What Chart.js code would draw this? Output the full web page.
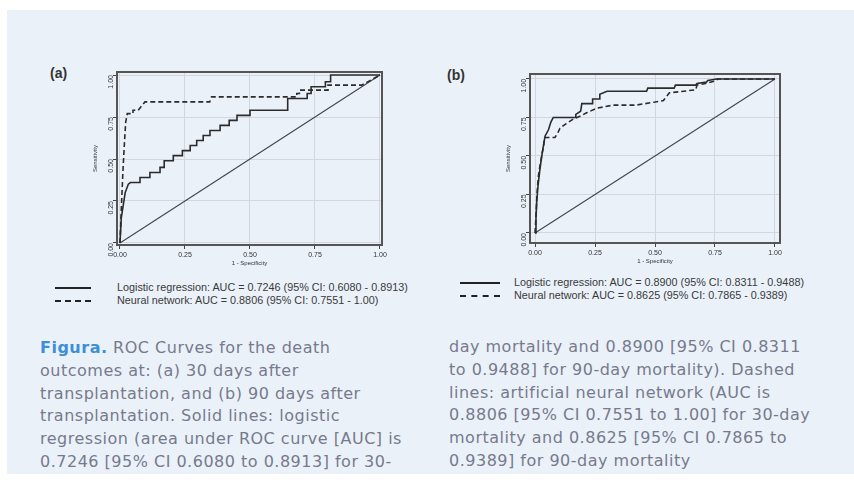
<!DOCTYPE html>
<html>
<head>
<meta charset="utf-8">
<script src="https://cdn.jsdelivr.net/npm/chart.js@4.4.1/dist/chart.umd.min.js"></script>
<style>
  body { margin: 0; background: #fff; width: 854px; height: 494px; position: relative; overflow: hidden; }
  .panel { position: absolute; left: 7px; top: 10px; width: 847px; height: 464px; background: #ebf1f9; }
  .box { position: absolute; }
  .tag { position: absolute; font: bold 14px "Liberation Sans", Arial, sans-serif; color: #333; }
  .leg { position: absolute; font: 10.8px "Liberation Sans", Arial, sans-serif; color: #3a3a3a; white-space: nowrap; line-height: 12.5px; }
  .leg .row { position: relative; height: 12.5px; }
  .leg .smp { position: absolute; left: 0; top: 6px; width: 36px; border-top: 2px solid #222; }
  .leg .smp.dash { border-top-style: dashed; }
  .leg .txt { position: absolute; top: 0; }
  .cap { position: absolute; font: 16px "DejaVu Sans", sans-serif; letter-spacing: 0.5px; color: #777a8c; line-height: 22.8px; white-space: nowrap; }
  .cap b { color: #3d8fd6; font-weight: 600; }
</style>
</head>
<body>
<div class="panel"></div>

<div class="tag" style="left:50px;top:65px">(a)</div>
<div class="tag" style="left:447px;top:67px">(b)</div>

<div class="box" style="left:60px;top:60px;width:330px;height:210px"><canvas id="chartA"></canvas></div>
<div class="box" style="left:470px;top:62px;width:330px;height:210px"><canvas id="chartB"></canvas></div>

<div class="leg" style="left:55px;top:281px">
  <div class="row"><div class="smp"></div><span class="txt" style="left:62px">Logistic regression: AUC = 0.7246 (95% CI: 0.6080 - 0.8913)</span></div>
  <div class="row"><div class="smp dash"></div><span class="txt" style="left:62px">Neural network: AUC = 0.8806 (95% CI: 0.7551 - 1.00)</span></div>
</div>
<div class="leg" style="left:460px;top:276px">
  <div class="row"><div class="smp" style="width:40px"></div><span class="txt" style="left:54px">Logistic regression: AUC = 0.8900 (95% CI: 0.8311 - 0.9488)</span></div>
  <div class="row"><div class="smp dash" style="width:40px"></div><span class="txt" style="left:54px">Neural network: AUC = 0.8625 (95% CI: 0.7865 - 0.9389)</span></div>
</div>

<div class="cap" style="left:40px;top:337px"><b>Figura.</b> ROC Curves for the death<br>outcomes at: (a) 30 days after<br>transplantation, and (b) 90 days after<br>transplantation. Solid lines: logistic<br>regression (area under ROC curve [AUC] is<br>0.7246 [95% CI 0.6080 to 0.8913] for 30-</div>
<div class="cap" style="left:449px;top:336px">day mortality and 0.8900 [95% CI 0.8311<br>to 0.9488] for 90-day mortality). Dashed<br>lines: artificial neural network (AUC is<br>0.8806 [95% CI 0.7551 to 1.00] for 30-day<br>mortality and 0.8625 [95% CI 0.7865 to<br>0.9389] for 90-day mortality</div>

<script>
// Axis ticks
const tickValues = [0, 0.25, 0.5, 0.75, 1]
const tickLabels = ['0.00', '0.25', '0.50', '0.75', '1.00']

// Reference line
const diagX = [0, 1]
const diagY = [0, 1]

// (a) 30 days - logistic regression
const aLogitFpr = [0, 0.005, 0.02, 0.032, 0.04, 0.077, 0.077, 0.115, 0.115, 0.154, 0.154, 0.17, 0.17, 0.205, 0.205, 0.24, 0.24, 0.27, 0.27, 0.295, 0.295, 0.32, 0.32, 0.346, 0.346, 0.385, 0.385, 0.42, 0.42, 0.45, 0.45, 0.5, 0.5, 0.645, 0.645, 0.72, 0.72, 0.735, 0.735, 0.79, 0.79, 0.81, 0.81, 1]
const aLogitTpr = [0, 0.15, 0.3, 0.35, 0.36, 0.36, 0.39, 0.39, 0.42, 0.42, 0.45, 0.45, 0.49, 0.49, 0.52, 0.52, 0.55, 0.55, 0.58, 0.58, 0.61, 0.61, 0.64, 0.64, 0.67, 0.67, 0.7, 0.7, 0.73, 0.73, 0.76, 0.76, 0.79, 0.79, 0.86, 0.86, 0.89, 0.89, 0.93, 0.93, 0.96, 0.96, 1, 1]
// (a) 30 days - neural network
const aNeuralFpr = [0, 0.005, 0.012, 0.018, 0.022, 0.028, 0.05, 0.05, 0.07, 0.08, 0.096, 0.345, 0.352, 0.68, 0.68, 0.69, 0.69, 0.8, 0.8, 0.93, 1]
const aNeuralTpr = [0, 0.2, 0.45, 0.62, 0.72, 0.77, 0.77, 0.79, 0.79, 0.81, 0.84, 0.84, 0.87, 0.87, 0.89, 0.89, 0.91, 0.91, 0.94, 0.94, 1]

// (b) 90 days - logistic regression
const bLogitFpr = [0, 0.004, 0.007, 0.012, 0.02, 0.03, 0.042, 0.056, 0.066, 0.076, 0.17, 0.17, 0.19, 0.195, 0.24, 0.24, 0.27, 0.27, 0.3, 0.465, 0.47, 0.58, 0.585, 0.67, 0.675, 0.715, 0.72, 0.757, 1]
const bLogitTpr = [0, 0.1, 0.2, 0.3, 0.41, 0.52, 0.63, 0.67, 0.72, 0.75, 0.75, 0.77, 0.79, 0.84, 0.84, 0.87, 0.87, 0.9, 0.92, 0.92, 0.94, 0.94, 0.96, 0.96, 0.97, 0.98, 0.99, 1, 1]
// (b) 90 days - neural network
const bNeuralFpr = [0, 0.004, 0.008, 0.014, 0.022, 0.03, 0.035, 0.04, 0.083, 0.095, 0.104, 0.13, 0.16, 0.19, 0.215, 0.257, 0.326, 0.42, 0.5, 0.535, 0.56, 0.62, 0.67, 0.675, 0.71, 0.757, 0.76, 1]
const bNeuralTpr = [0, 0.11, 0.25, 0.37, 0.45, 0.52, 0.56, 0.62, 0.62, 0.65, 0.68, 0.71, 0.74, 0.76, 0.78, 0.81, 0.83, 0.83, 0.85, 0.86, 0.91, 0.92, 0.93, 0.96, 0.97, 0.99, 1, 1]

const toPoints = (xs, ys) => xs.map((x, i) => ({ x, y: ys[i] }))

// Draw the closed box around the plot area
const frame = {
  id: 'frame',
  afterDraw (chart) {
    const { ctx, chartArea: a } = chart
    ctx.save()
    ctx.strokeStyle = '#555'
    ctx.lineWidth = 2
    ctx.strokeRect(a.left, a.top, a.right - a.left, a.bottom - a.top)
    ctx.restore()
  }
}

const tickFont = { family: 'Liberation Sans', size: 7 }

const axis = (min, max, title, fit) => ({
  type: 'linear',
  min,
  max,
  afterBuildTicks: scale => { scale.ticks = tickValues.map(value => ({ value })) },
  afterFit: fit,
  grid: { color: '#d3d7dd', tickColor: '#444', tickLength: 4 },
  border: { display: false },
  ticks: {
    color: '#333',
    font: tickFont,
    padding: 2,
    callback: value => tickLabels[tickValues.indexOf(value)]
  },
  title: { display: true, text: title, color: '#333', font: { family: 'Liberation Sans', size: 6 }, padding: 0 }
})

const rocChart = (id, logit, neural, xr, yr, padding) => {
  return new Chart(document.getElementById(id), {
    type: 'scatter',
    data: {
      datasets: [
        {
          label: 'Logistic regression',
          data: logit,
          showLine: true,
          borderColor: '#2b2b2b',
          borderWidth: 1.6,
          pointRadius: 0
        },
        {
          label: 'Neural network',
          data: neural,
          showLine: true,
          borderColor: '#2b2b2b',
          borderWidth: 1.6,
          borderDash: [5, 3],
          pointRadius: 0
        },
        {
          label: 'Reference',
          data: toPoints(diagX, diagY),
          showLine: true,
          borderColor: '#444',
          borderWidth: 1.1,
          pointRadius: 0
        }
      ]
    },
    options: {
      responsive: true,
      maintainAspectRatio: false,
      animation: false,
      layout: { padding },
      plugins: { legend: { display: false }, tooltip: { enabled: false } },
      scales: {
        x: axis(xr[0], xr[1], '1 - Specificity', s => { s.height = 22 }),
        y: {
          ...axis(yr[0], yr[1], 'Sensitivity', s => { s.width = 25 }),
          ticks: {
            color: '#333',
            font: tickFont,
            padding: 2,
            minRotation: 90,
            maxRotation: 90,
            callback: value => tickLabels[tickValues.indexOf(value)]
          }
        }
      }
    },
    plugins: [frame]
  })
}

rocChart('chartA', toPoints(aLogitFpr, aLogitTpr), toPoints(aNeuralFpr, aNeuralTpr),
  [-0.0115, 1.0077], [-0.012, 1.018], { left: 32, right: 8, top: 12, bottom: 3 })
rocChart('chartB', toPoints(bLogitFpr, bLogitTpr), toPoints(bNeuralFpr, bNeuralTpr),
  [-0.021, 1.021], [-0.065, 1.032], { left: 35, right: 20, top: 12, bottom: 7 })
</script>
</body>
</html>
